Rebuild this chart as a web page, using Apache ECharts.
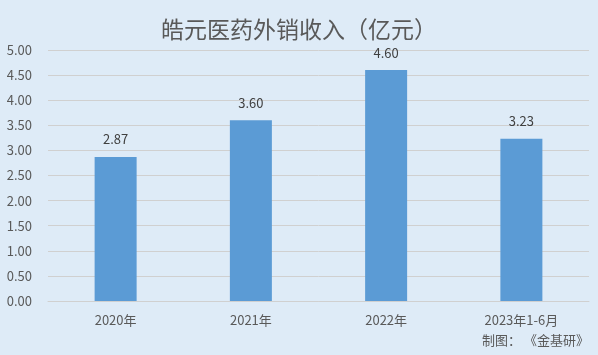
<!DOCTYPE html>
<html><head><meta charset="utf-8">
<script src="https://cdn.jsdelivr.net/npm/echarts@6/dist/echarts.min.js"></script>
<style>html,body{margin:0;padding:0;background:#deebf7;}#c{width:598px;height:355px;}</style>
</head><body><div id="c"></div>
<script>
const categories = ['2020年', '2021年', '2022年', '2023年1-6月'];
const values = [2.87, 3.60, 4.60, 3.23];
const chart = echarts.init(document.getElementById('c'));
const font = '"Noto Sans CJK SC",sans-serif';
chart.setOption({
  backgroundColor: '#deebf7',
  animation: false,
  title: {
    text: '皓元医药外销收入（亿元）', left: 'center', top: 13,
    textStyle: { color: '#595959', fontSize: 23, fontWeight: 'normal', fontFamily: font }
  },
  graphic: [{
    type: 'text', right: 9, top: 334,
    style: { text: '制图： 《金基研》', fill: '#595959', font: '13px ' + font }
  }],
  grid: { left: 48, right: 9, top: 50, bottom: 54 },
  xAxis: {
    type: 'category', data: categories,
    axisLine: { show: true, lineStyle: { color: '#d0d0d0' } },
    axisTick: { show: false },
    axisLabel: { color: '#595959', fontSize: 13, margin: 13, fontFamily: font }
  },
  yAxis: {
    type: 'value', min: 0, max: 5, interval: 0.5,
    axisLine: { show: false }, axisTick: { show: false },
    axisLabel: { color: '#595959', fontSize: 13, formatter: v => v.toFixed(2), margin: 16, fontFamily: font },
    splitLine: { lineStyle: { color: '#d0d0d0' } }
  },
  series: [{
    type: 'bar', data: values, barWidth: 42,
    itemStyle: { color: '#5b9bd5' },
    label: { show: true, position: 'top', distance: 11, color: '#404040', fontSize: 13,
      formatter: p => p.value.toFixed(2), fontFamily: font }
  }]
});
</script></body></html>
